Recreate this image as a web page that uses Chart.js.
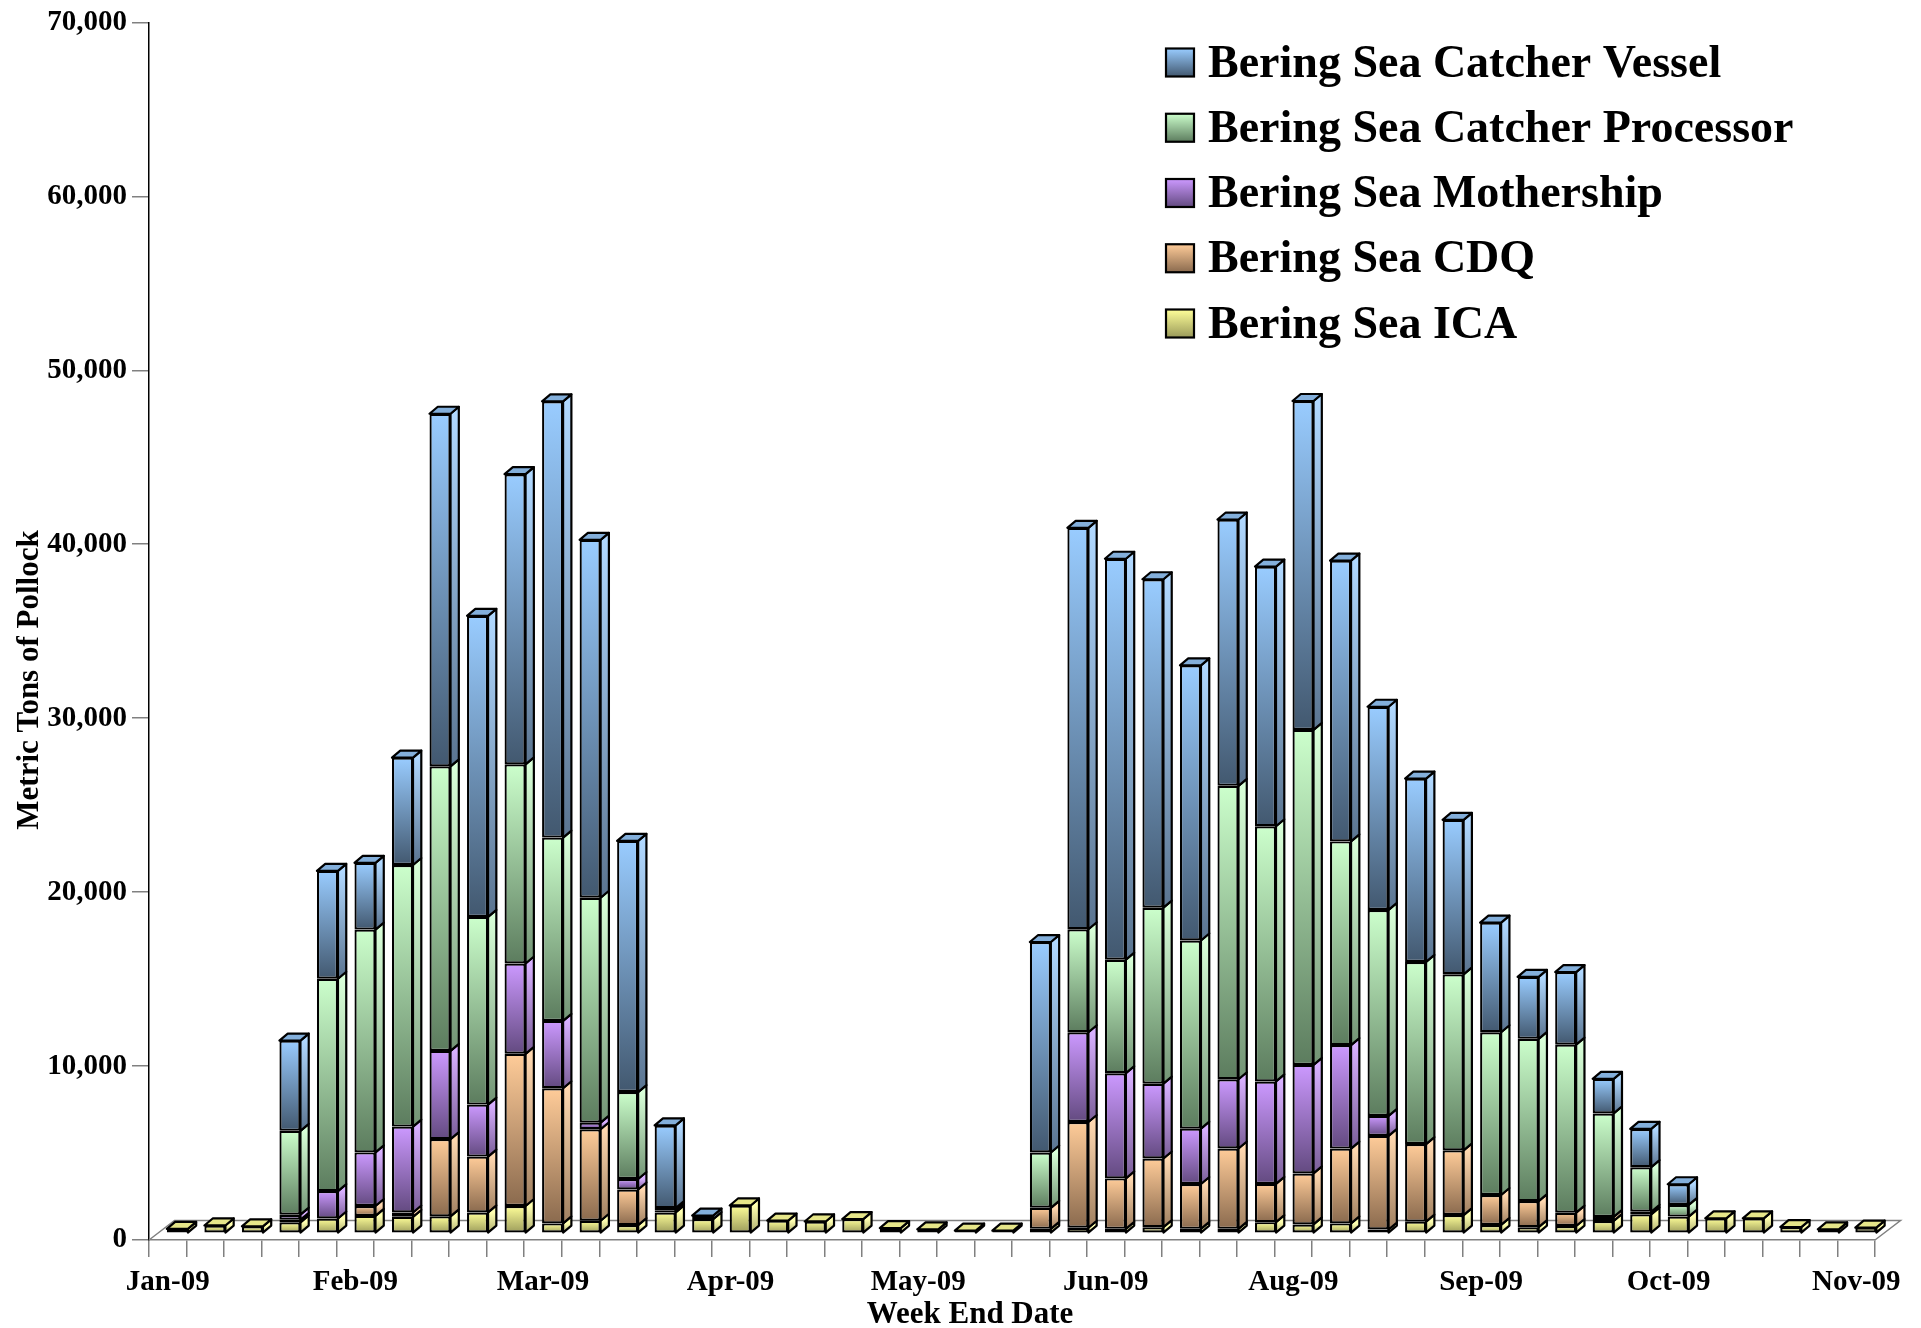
<!DOCTYPE html>
<html>
<head>
<meta charset="utf-8">
<script src="https://cdn.jsdelivr.net/npm/chart.js@4.4.1/dist/chart.umd.min.js"></script>
<style>
  html, body { margin: 0; padding: 0; background: #ffffff; }
  #wrap { width: 1921px; height: 1328px; }
</style>
</head>
<body>
<div id="wrap"><canvas id="c" width="1921" height="1328"></canvas></div>
<script>
// ---- categories: week end dates ----
const weekEndDates = [
  '2009-01-03','2009-01-10','2009-01-17','2009-01-24','2009-01-31',
  '2009-02-07','2009-02-14','2009-02-21','2009-02-28',
  '2009-03-07','2009-03-14','2009-03-21','2009-03-28',
  '2009-04-04','2009-04-11','2009-04-18','2009-04-25',
  '2009-05-02','2009-05-09','2009-05-16','2009-05-23','2009-05-30',
  '2009-06-06','2009-06-13','2009-06-20','2009-06-27',
  '2009-07-04','2009-07-11','2009-07-18','2009-07-25',
  '2009-08-01','2009-08-08','2009-08-15','2009-08-22','2009-08-29',
  '2009-09-05','2009-09-12','2009-09-19','2009-09-26',
  '2009-10-03','2009-10-10','2009-10-17','2009-10-24','2009-10-31',
  '2009-11-07','2009-11-14'
];
const monthNames = ['Jan','Feb','Mar','Apr','May','Jun','Jul','Aug','Sep','Oct','Nov','Dec'];
const tickEvery = 5;
const yTicks = [0, 10000, 20000, 30000, 40000, 50000, 60000, 70000];

// ---- series values (metric tons) ----
const icaValues = [250,450,400,630,850,1000,945,975,1200,1570,
                   570,720,470,1200,820,1600,730,680,820,300,
                   230,150,150,255,320,255,350,255,255,640,
                   510,570,220,670,1050,480,350,420,710,1090,
                   960,860,860,360,230,325];
const cdqValues = [0,0,0,150,0,570,250,4440,3210,8750,
                   7770,5260,2050,100,0,0,0,0,0,0,
                   0,0,0,1210,6080,2900,3950,2580,4620,2200,
                   2930,4300,5380,4460,3720,1720,1500,765,230,0,
                   0,0,0,0,0,0];
const mothershipValues = [0,0,0,290,1575,3080,4940,5070,2990,5190,
                   3870,380,600,0,0,0,0,0,0,0,
                   0,0,0,0,5160,6050,4300,3180,3980,5890,
                   6240,5950,1150,0,0,0,0,0,0,150,
                   0,0,0,0,0,0];
const catcherProcessorValues = [0,0,0,4820,12210,12810,15040,16360,10790,11450,
                   10540,12930,5000,150,0,0,0,0,0,0,
                   0,0,0,3180,5920,6525,10120,10820,16870,14670,
                   19260,11710,11840,10470,10120,9360,9330,9660,5950,2560,
                   670,0,0,0,0,0];
const catcherVesselValues = [0,0,0,5190,6200,3840,6170,20270,17310,16680,
                   25080,20580,14440,4750,200,0,0,0,0,0,
                   0,0,0,12100,23080,23050,18880,15820,15310,14930,
                   18910,16140,11680,10540,8880,6300,3560,4170,1990,2200,
                   1190,0,0,0,0,0];

// stacking order: bottom first
const seriesNames = ['Bering Sea ICA','Bering Sea CDQ','Bering Sea Mothership',
                     'Bering Sea Catcher Processor','Bering Sea Catcher Vessel'];
const seriesValues = [icaValues, cdqValues, mothershipValues, catcherProcessorValues, catcherVesselValues];
// gradient colours: [top (light), bottom (dark)]
const seriesColors = [
  ['#ffff99', '#9a9a5a'],
  ['#ffcc99', '#8a6a4e'],
  ['#cc99ff', '#634a80'],
  ['#ccffcc', '#5c7c5e'],
  ['#99ccff', '#42586f']
];
const sideColors = [
  ['#ffffb0', '#b0b070'],
  ['#ffd8b0', '#a08060'],
  ['#d8b0ff', '#7a5e98'],
  ['#d8ffd8', '#729474'],
  ['#b0d8ff', '#5a7490']
];

const FONT = "'Liberation Serif', 'Times New Roman', Times, serif";
const DEPTH_DX = 8.3, DEPTH_DY = -7;        // bar depth projection
const SHIFT_DX = 9.6, SHIFT_DY = -6.7;      // bars sit mid-depth on the floor
const FLOOR_DX = 25.5, FLOOR_DY = -19.5;    // floor depth projection
const EDGE = 2.2;

function tickLabel(i) {
  if (i % tickEvery !== 0) return '';
  const parts = weekEndDates[i].split('-');
  return monthNames[parseInt(parts[1], 10) - 1] + '-' + parts[0].slice(2);
}

function makeGradient(ctx, yTop, yBottom, stops) {
  const g = ctx.createLinearGradient(0, yTop, 0, yBottom);
  g.addColorStop(0, stops[0]);
  g.addColorStop(1, stops[1]);
  return g;
}

function frontFill(context) {
  const d = context.datasetIndex;
  if (context.type !== 'data') return seriesColors[d][0];
  const chart = context.chart;
  const y = chart.scales.y;
  if (!y || !chart.chartArea) return seriesColors[d][0];
  const i = context.dataIndex;
  let start = 0;
  for (let k = 0; k < d; k++) start += seriesValues[k][i];
  const end = start + seriesValues[d][i];
  const p0 = y.getPixelForValue(start), p1 = y.getPixelForValue(end);
  if (p0 - p1 < 1) return seriesColors[d][0];
  return makeGradient(chart.ctx, p1, p0, seriesColors[d]);
}

const datasets = seriesNames.map((name, d) => ({
  label: name,
  data: seriesValues[d],
  backgroundColor: frontFill,
  borderColor: '#000000',
  borderWidth: EDGE,
  borderSkipped: false,
  barPercentage: 0.56,
  categoryPercentage: 1.0,
  clip: false
}));

// Floor + 3D faces (faces are derived from the library's bar elements)
const bars3d = {
  id: 'bars3d',
  beforeDatasetsDraw(chart) {
    const ctx = chart.ctx, a = chart.chartArea;
    ctx.save();
    ctx.strokeStyle = '#808080';
    ctx.lineWidth = 1.5;
    ctx.beginPath();
    ctx.moveTo(a.left, a.bottom);
    ctx.lineTo(a.left + FLOOR_DX, a.bottom + FLOOR_DY);
    ctx.lineTo(a.right + FLOOR_DX, a.bottom + FLOOR_DY);
    ctx.lineTo(a.right, a.bottom);
    ctx.stroke();
    ctx.restore();
    ctx.save();
    ctx.translate(SHIFT_DX, SHIFT_DY);
  },
  afterDatasetsDraw(chart) {
    const ctx = chart.ctx;
    const n = weekEndDates.length;
    const metas = seriesNames.map((_, d) => chart.getDatasetMeta(d));
    for (let i = 0; i < n; i++) {
      let topD = -1;
      for (let d = 0; d < metas.length; d++) if (seriesValues[d][i] > 0) topD = d;
      for (let d = 0; d < metas.length; d++) {
        if (!(seriesValues[d][i] > 0)) continue;
        const el = metas[d].data[i];
        const p = el.getProps(['x', 'y', 'base', 'width'], true);
        const left = p.x - p.width / 2, right = p.x + p.width / 2;
        const top = Math.min(p.y, p.base), bottom = Math.max(p.y, p.base);
        ctx.lineWidth = EDGE;
        ctx.strokeStyle = '#000000';
        ctx.lineJoin = 'round';
        // side face
        ctx.beginPath();
        ctx.moveTo(right, bottom);
        ctx.lineTo(right + DEPTH_DX, bottom + DEPTH_DY);
        ctx.lineTo(right + DEPTH_DX, top + DEPTH_DY);
        ctx.lineTo(right, top);
        ctx.closePath();
        ctx.fillStyle = (bottom - top > 1) ? makeGradient(ctx, top, bottom, sideColors[d]) : sideColors[d][1];
        ctx.fill();
        ctx.stroke();
        // top face
        if (d === topD) {
          ctx.beginPath();
          ctx.moveTo(left, top);
          ctx.lineTo(left + DEPTH_DX, top + DEPTH_DY);
          ctx.lineTo(right + DEPTH_DX, top + DEPTH_DY);
          ctx.lineTo(right, top);
          ctx.closePath();
          ctx.fillStyle = seriesColors[d][0];
          ctx.fill();
          ctx.globalAlpha = 0.25;
          ctx.fillStyle = seriesColors[d][1];
          ctx.fill();
          ctx.globalAlpha = 1;
          ctx.stroke();
        }
      }
    }
    ctx.restore();
  }
};

// Legend (vertical list, top series first) and axis titles
const sideText = {
  id: 'sideText',
  afterDraw(chart) {
    const ctx = chart.ctx;
    ctx.save();
    // legend
    const lx = 1166, ly = 48.5, step = 65.25, box = 28;
    ctx.font = 'bold 46px ' + FONT;
    ctx.textAlign = 'left';
    ctx.textBaseline = 'alphabetic';
    for (let r = 0; r < seriesNames.length; r++) {
      const d = seriesNames.length - 1 - r;
      const y = ly + r * step;
      ctx.fillStyle = makeGradient(ctx, y, y + box, seriesColors[d]);
      ctx.fillRect(lx, y, box, box);
      ctx.lineWidth = 2.2;
      ctx.strokeStyle = '#000';
      ctx.strokeRect(lx, y, box, box);
      ctx.fillStyle = '#000';
      ctx.fillText(chart.data.datasets[d].label, lx + 42, y + box);
    }
    // axis titles
    ctx.font = 'bold 31px ' + FONT;
    ctx.textAlign = 'center';
    ctx.textBaseline = 'alphabetic';
    ctx.fillText('Week End Date', 970, 1323);
    ctx.translate(38, 680);
    ctx.rotate(-Math.PI / 2);
    ctx.fillText('Metric Tons of Pollock', 0, 0);
    ctx.restore();
  }
};

new Chart(document.getElementById('c'), {
  type: 'bar',
  data: { labels: weekEndDates, datasets: datasets },
  options: {
    responsive: false,
    animation: false,
    devicePixelRatio: 1,
    layout: { padding: { top: 20, right: 46, left: 0, bottom: 0 } },
    plugins: {
      legend: { display: false },
      tooltip: { enabled: false },
      title: { display: false }
    },
    scales: {
      x: {
        stacked: true,
        offset: true,
        grid: { offset: true, drawOnChartArea: false, drawTicks: true, tickLength: 17, color: '#808080', lineWidth: 1.5 },
        border: { display: true, color: '#808080', width: 1.5 },
        ticks: {
          autoSkip: false, maxRotation: 0, minRotation: 0, padding: 8, color: '#000000',
          font: { family: FONT, size: 29, weight: 'bold' },
          callback: (v, i) => tickLabel(i)
        },
        afterFit: (s) => { s.height = 88; }
      },
      y: {
        stacked: true,
        min: yTicks[0],
        max: yTicks[yTicks.length - 1],
        afterBuildTicks: (s) => { s.ticks = yTicks.map(v => ({ value: v })); },
        grid: { drawOnChartArea: false, drawTicks: true, tickLength: 17, color: '#808080', lineWidth: 1.5 },
        border: { display: true, color: '#000000', width: 1.5 },
        ticks: {
          padding: 5, color: '#000000',
          font: { family: FONT, size: 29, weight: 'bold' },
          callback: (v) => Number(v).toLocaleString('en-US')
        },
        afterFit: (s) => { s.width = 149; }
      }
    }
  },
  plugins: [bars3d, sideText]
});
</script>
</body>
</html>
